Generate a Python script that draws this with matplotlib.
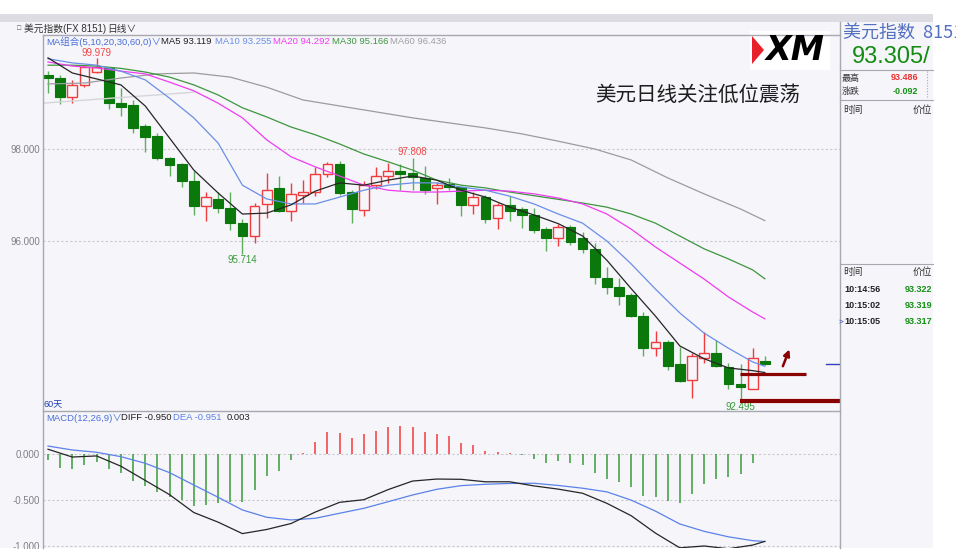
import matplotlib
matplotlib.use('Agg')
import matplotlib.pyplot as plt
from matplotlib.patches import Rectangle, Polygon
import numpy as np

plt.rcParams['font.family'] = ['Liberation Sans', 'Noto Sans CJK SC', 'DejaVu Sans']

# ---------------- data ----------------
opens = [99.62, 99.56, 99.14, 99.40, 99.69, 99.76, 99.00, 98.96, 98.50, 98.29,
         97.80, 97.67, 97.31, 96.76, 96.90, 96.71, 96.38, 96.09, 96.79, 97.14,
         96.65, 97.00, 97.07, 97.45, 97.67, 97.05, 96.67, 97.21, 97.40, 97.51,
         97.47, 97.37, 97.14, 97.24, 97.17, 96.78, 96.96, 96.49, 96.78, 96.68,
         96.56, 96.25, 96.05, 96.30, 96.05, 95.81, 95.18, 94.99, 94.81, 94.35,
         93.66, 93.78, 93.31, 92.96, 93.43, 93.54, 93.25, 92.87, 92.77, 93.38]
highs = [99.71, 99.62, 99.51, 99.83, 99.979, 99.80, 99.34, 99.07, 98.55, 98.34,
         97.83, 97.70, 97.53, 97.07, 97.07, 97.07, 96.47, 96.83, 97.47, 97.40,
         97.26, 97.32, 97.60, 97.72, 97.74, 97.10, 97.30, 97.61, 97.69, 97.67,
         97.808, 97.63, 97.29, 97.36, 97.18, 97.07, 97.00, 96.83, 96.97, 96.74,
         96.71, 96.30, 96.36, 96.34, 96.19, 95.94, 95.42, 95.18, 94.85, 94.45,
         94.03, 93.83, 93.68, 93.55, 94.01, 93.84, 93.33, 93.30, 93.65, 93.486]
lows = [99.22, 98.98, 99.00, 99.35, 99.65, 98.87, 98.71, 98.34, 97.94, 97.76,
        97.41, 97.18, 96.56, 96.43, 96.60, 96.23, 95.714, 95.95, 96.49, 96.63,
        96.43, 96.81, 96.97, 97.38, 97.00, 96.38, 96.54, 97.12, 97.25, 97.10,
        97.10, 97.02, 96.80, 97.10, 96.54, 96.58, 96.39, 96.25, 96.43, 96.27,
        96.17, 95.78, 95.88, 95.90, 95.72, 95.05, 94.83, 94.59, 94.34, 93.49,
        93.49, 93.17, 92.92, 92.56, 93.33, 93.25, 92.77, 92.495, 92.75, 93.29]
closes = [99.55, 99.14, 99.40, 99.78, 99.78, 99.00, 98.92, 98.45, 98.27, 97.80,
          97.65, 97.31, 96.76, 96.95, 96.71, 96.39, 96.09, 96.76, 97.10, 96.65,
          97.01, 97.07, 97.45, 97.67, 97.03, 96.68, 97.22, 97.40, 97.51, 97.45,
          97.39, 97.10, 97.21, 97.16, 96.78, 96.96, 96.47, 96.78, 96.65, 96.56,
          96.23, 96.05, 96.30, 95.98, 95.81, 95.20, 94.99, 94.80, 94.35, 93.66,
          93.78, 93.27, 92.94, 93.47, 93.55, 93.26, 92.86, 92.81, 93.43, 93.305]

ma_idx = list(range(0, 60, 2)) + [59]
ma5 = [99.99, 99.66, 99.53, 99.40, 98.94, 98.24, 97.54, 97.04, 96.58, 96.60,
       96.78, 97.08, 97.26, 97.21, 97.32, 97.41, 97.32, 97.10, 96.95, 96.73,
       96.56, 96.37, 96.10, 95.57, 94.95, 94.35, 93.70, 93.42, 93.22, 93.16, 93.119]
ma10 = [99.97, 99.88, 99.83, 99.70, 99.51, 99.11, 98.68, 98.13, 97.21, 96.91,
        96.80, 96.80, 96.95, 97.10, 97.21, 97.26, 97.26, 97.17, 97.10, 96.97,
        96.80, 96.58, 96.38, 95.99, 95.49, 94.94, 94.42, 93.98, 93.65, 93.35, 93.255]
ma20 = [99.90, 99.81, 99.77, 99.70, 99.64, 99.46, 99.27, 99.00, 98.68, 98.20,
        97.83, 97.61, 97.41, 97.21, 97.10, 97.06, 97.06, 97.08, 97.10, 97.08,
        97.02, 96.93, 96.80, 96.58, 96.25, 95.86, 95.51, 95.16, 94.77, 94.44, 94.292]
ma30 = [99.83, 99.83, 99.81, 99.76, 99.68, 99.57, 99.40, 99.18, 98.90, 98.70,
        98.48, 98.31, 98.11, 97.89, 97.72, 97.54, 97.32, 97.21, 97.15, 97.06,
        96.98, 96.90, 96.82, 96.73, 96.58, 96.38, 96.10, 95.82, 95.60, 95.36, 95.166]
ma60_idx = [0, 3, 6, 9, 12, 15, 18, 21, 24, 27, 30, 33, 36, 39, 42, 45, 48, 51, 54, 57, 59]
ma60 = [99.42, 99.44, 99.55, 99.64, 99.66, 99.57, 99.35, 99.07, 98.94, 98.81,
        98.68, 98.57, 98.46, 98.33, 98.17, 98.00, 97.76, 97.37, 97.02, 96.69, 96.436]
trend_idx = [-0.4, 12.0]
trend_val = [99.00, 99.24]

macd_hist = [-0.062, -0.146, -0.16, -0.12, -0.087, -0.16, -0.207, -0.288, -0.342, -0.415,
             -0.462, -0.498, -0.564, -0.55, -0.534, -0.524, -0.517, -0.389, -0.237, -0.179,
             -0.062, 0.018, 0.138, 0.247, 0.232, 0.174, 0.218, 0.254, 0.294, 0.305,
             0.294, 0.247, 0.225, 0.2, 0.127, 0.101, 0.036, 0.029, 0.01, -0.003,
             -0.051, -0.091, -0.073, -0.098, -0.12, -0.2, -0.269, -0.305, -0.36, -0.451,
             -0.462, -0.506, -0.528, -0.433, -0.327, -0.273, -0.251, -0.215, -0.091, 0.003]
diff = [0.055, -0.03, -0.018, -0.13, -0.285, -0.44, -0.635, -0.74, -0.865, -0.82,
        -0.755, -0.63, -0.524, -0.495, -0.385, -0.292, -0.27, -0.273, -0.30, -0.30,
        -0.345, -0.38, -0.425, -0.535, -0.67, -0.86, -1.02, -1.00, -1.03, -0.99, -0.95]
dea = [0.09, 0.047, 0.022, -0.026, -0.098, -0.2, -0.335, -0.469, -0.607, -0.687,
       -0.716, -0.698, -0.643, -0.589, -0.517, -0.444, -0.382, -0.342, -0.327, -0.318,
       -0.316, -0.34, -0.37, -0.41, -0.50, -0.62, -0.76, -0.84, -0.90, -0.942, -0.951]

price_ticks = [96.0, 98.0]
price_tick_labels = ['96.000', '98.000']
macd_ticks = [0.0, -0.5, -1.0]
macd_tick_labels = ['0.000', '-0.500', '-1.000']

level_upper = 93.08
level_lower = 92.50
last_price = 93.305

# ---------------- figure ----------------
W, H = 956, 560
fig = plt.figure(figsize=(W / 100, H / 100), dpi=100)
fig.patch.set_facecolor('white')
BG = '#F5F5FA'
FRAME = '#A8A8B0'
RED = '#F03C3C'
GREEN = '#0A780A'
GREEN_W = '#5FAE5F'


def frac_rect(x0, y0, x1, y1):
    return [x0 / W, 1 - y1 / H, (x1 - x0) / W, (y1 - y0) / H]


bg = fig.add_axes([0, 0, 1, 1], zorder=0)
bg.set_xlim(0, W); bg.set_ylim(H, 0); bg.axis('off')
bg.add_patch(Rectangle((0, 14), 933, 534, color=BG, lw=0))
bg.add_patch(Rectangle((0, 14), 933, 8, color='#DCDCE2', lw=0))

# ---------------- main price panel ----------------
ax = fig.add_axes(frac_rect(43, 35, 840, 411), zorder=2)
ax.set_facecolor(BG)
ax.set_xlim(-0.4115, 65.185)
ax.set_ylim(92.279, 100.489)
for s in ax.spines.values():
    s.set_visible(False)
ax.set_xticks([])
ax.set_yticks(price_ticks)
ax.set_yticklabels(price_tick_labels)
ax.tick_params(axis='y', length=0, pad=2, labelsize=7, labelcolor='#808088')
ax.yaxis.grid(True, ls=(0, (2, 2)), color='#C8C8CE', lw=0.8)
ax.set_axisbelow(True)

idx = np.arange(len(opens))
o = np.array(opens); c = np.array(closes); h = np.array(highs); l = np.array(lows)
up = c >= o
wick_cols = [RED if u else GREEN_W for u in up]
ax.vlines(idx, l, h, colors=wick_cols, lw=1.0, zorder=2)
bottoms = np.minimum(o, c)
heights = np.maximum(np.abs(c - o), 0.025)
ax.bar(idx[up], heights[up], bottom=bottoms[up], width=0.8,
       facecolor=BG, edgecolor=RED, lw=1.0, zorder=3)
ax.bar(idx[~up], heights[~up], bottom=bottoms[~up], width=0.8,
       facecolor=GREEN, edgecolor=GREEN, lw=0.8, zorder=3)

ax.plot(trend_idx, trend_val, color='#D6D6DA', lw=1.0, zorder=4)
ax.plot(ma60_idx, ma60, color='#9C9CA0', lw=0.9, zorder=4)
ax.plot(ma_idx, ma30, color='#3D963D', lw=0.9, zorder=4)
ax.plot(ma_idx, ma20, color='#F03CF0', lw=0.9, zorder=4)
ax.plot(ma_idx, ma10, color='#6B8FE6', lw=0.9, zorder=4)
ax.plot(ma_idx, ma5, color='#262626', lw=0.9, zorder=4)

imax = int(np.argmax(h[:10])); imax2 = 30
imin = 16; imin2 = int(np.argmin(l))
for i in (imax, imax2):
    ax.annotate(f'{highs[i]:.3f}', xy=(i, highs[i]), xytext=(0, 0.5), textcoords='offset points',
                ha='center', va='bottom', fontsize=7, color='#F04848')
for i in (imin, imin2):
    ax.annotate(f'{lows[i]:.3f}', xy=(i, lows[i]), xytext=(0, -1), textcoords='offset points',
                ha='center', va='top', fontsize=7, color='#3A9A3A')

# user drawings
ax.plot([56.95, 62.4], [level_upper, level_upper], color='#880000', lw=2.3, zorder=6, solid_capstyle='butt')
ax.plot([56.95, 65.185], [level_lower, level_lower], color='#880000', lw=3.0, zorder=6,
        solid_capstyle='butt', clip_on=False)
ax.annotate('', xy=(61.1, 93.68), xytext=(60.4, 93.20),
            arrowprops=dict(arrowstyle='-|>', color='#880000', lw=1.8, mutation_scale=9), zorder=6)
ax.plot([64.0, 65.185], [last_price, last_price], color='#3040C0', lw=1.0, zorder=6)

# ---------------- MACD panel ----------------
ax2 = fig.add_axes(frac_rect(43, 411, 840, 548), zorder=2)
ax2.set_facecolor(BG)
ax2.set_xlim(-0.4115, 65.185)
ax2.set_ylim(-1.022, 0.472)
for s in ax2.spines.values():
    s.set_visible(False)
ax2.set_xticks([])
ax2.set_yticks(macd_ticks)
ax2.set_yticklabels(macd_tick_labels)
ax2.tick_params(axis='y', length=0, pad=2, labelsize=7, labelcolor='#808088')
ax2.yaxis.grid(True, ls=(0, (2, 2)), color='#C8C8CE', lw=0.8)
ax2.set_axisbelow(True)
hist = np.array(macd_hist)
ax2.vlines(idx, 0, hist, colors=[RED if v > 0 else '#3A9A3A' for v in hist], lw=1.1, zorder=3)
ax2.plot(ma_idx, dea, color='#5B82E8', lw=0.9, zorder=4)
ax2.plot(ma_idx, diff, color='#262626', lw=0.9, zorder=4)

# ---------------- overlay (frames, texts) ----------------
ov = fig.add_axes([0, 0, 1, 1], zorder=10)
ov.set_xlim(0, W); ov.set_ylim(H, 0); ov.axis('off')
ov.patch.set_alpha(0)

ov.plot([43, 43], [35, 548], color=FRAME, lw=1)
ov.plot([43, 840], [35, 35], color=FRAME, lw=1)
ov.plot([43, 840], [411, 411], color=FRAME, lw=1)
ov.plot([840.5, 840.5], [22, 548], color=FRAME, lw=1)

ov.text(17, 29, '□', fontsize=5, color='#555', va='center')
ov.text(24, 29, '美元指数(FX 8151)', fontsize=7, color='#333', va='center')
ov.text(107, 29, '日线∨', fontsize=7, color='#333', va='center')

ov.text(46, 42, 'MA组合(5,10,20,30,60,0)∨', fontsize=6.8, color='#4A6FD8', va='center')
ov.text(161, 42, 'MA5 93.119', fontsize=6.8, color='#222', va='center')
ov.text(215, 42, 'MA10 93.255', fontsize=6.8, color='#6B8FE6', va='center')
ov.text(273, 42, 'MA20 94.292', fontsize=6.8, color='#F03CF0', va='center')
ov.text(332, 42, 'MA30 95.166', fontsize=6.8, color='#3D963D', va='center')
ov.text(390, 42, 'MA60 96.436', fontsize=6.8, color='#A0A0A4', va='center')

ov.text(44, 405, '60天', fontsize=6.5, color='#2040B0', va='center')
ov.text(46, 418, 'MACD(12,26,9)∨', fontsize=6.8, color='#4A6FD8', va='center')
ov.text(121, 418, 'DIFF -0.950', fontsize=6.8, color='#222', va='center')
ov.text(173, 418, 'DEA -0.951', fontsize=6.8, color='#5B82E8', va='center')
ov.text(227, 418, '0.003', fontsize=6.8, color='#222', va='center')

# title and logo
ov.text(698, 95, '美元日线关注低位震荡', fontsize=14.8, color='#1E1E1E',
        ha='center', va='center', family=['Noto Sans CJK SC'])
ov.add_patch(Rectangle((750, 31), 80, 39, color='white', lw=0))
ov.add_patch(Polygon([(752, 36), (764, 50), (752, 64)], closed=True, color='#E8202A', lw=0))
ov.text(795, 50, 'XM', fontsize=24, fontweight='heavy', style='italic', color='black',
        ha='center', va='center', family=['DejaVu Sans'])

# right panel
ov.text(843, 33, '美元指数  8151', fontsize=13, color='#5470C0', va='center',
        family=['Noto Sans CJK SC'])
ov.text(852, 57, '93.305/', fontsize=17, color='#148C14', va='center')
ov.plot([840, 933], [69.5, 69.5], color=FRAME, lw=0.8)
ov.text(842, 78, '最高', fontsize=6.5, color='#333', va='center')
ov.text(918, 78, '93.486', fontsize=6.5, color='#F03030', va='center', ha='right', fontweight='bold')
ov.text(842, 91, '涨跌', fontsize=6.5, color='#333', va='center')
ov.text(918, 91, '-0.092', fontsize=6.5, color='#149014', va='center', ha='right', fontweight='bold')
ov.plot([927, 927], [71, 98], color=FRAME, lw=0.8, ls=(0, (1, 1.5)))
ov.plot([840, 933], [99.5, 99.5], color=FRAME, lw=0.8)
ov.text(843, 110, '时间', fontsize=7, color='#333', va='center')
ov.text(913, 110, '价位', fontsize=7, color='#333', va='center')

ov.plot([840, 933], [263.5, 263.5], color=FRAME, lw=0.8)
ov.text(843, 272, '时间', fontsize=7, color='#333', va='center')
ov.text(913, 272, '价位', fontsize=7, color='#333', va='center')
rows_t = ['10:14:56', '10:15:02', '10:15:05']
rows_p = ['93.322', '93.319', '93.317']
for k, (t, p) in enumerate(zip(rows_t, rows_p)):
    yy = 289 + 16.5 * k
    ov.text(844, yy, t, fontsize=6.5, color='#222', va='center', fontweight='bold')
    ov.text(905, yy, p, fontsize=6.5, color='#149014', va='center', fontweight='bold')
ov.text(838.5, 322, '>', fontsize=6, color='#3040C0', va='center')

# masks (screenshot edges)
ov.add_patch(Rectangle((933, 0), 23, 560, color='white', lw=0))
ov.add_patch(Rectangle((0, 548.5), 956, 12, color='white', lw=0))
ov.add_patch(Rectangle((0, 0), 956, 14, color='white', lw=0))

fig.savefig('out.png', dpi=100, facecolor='white')
